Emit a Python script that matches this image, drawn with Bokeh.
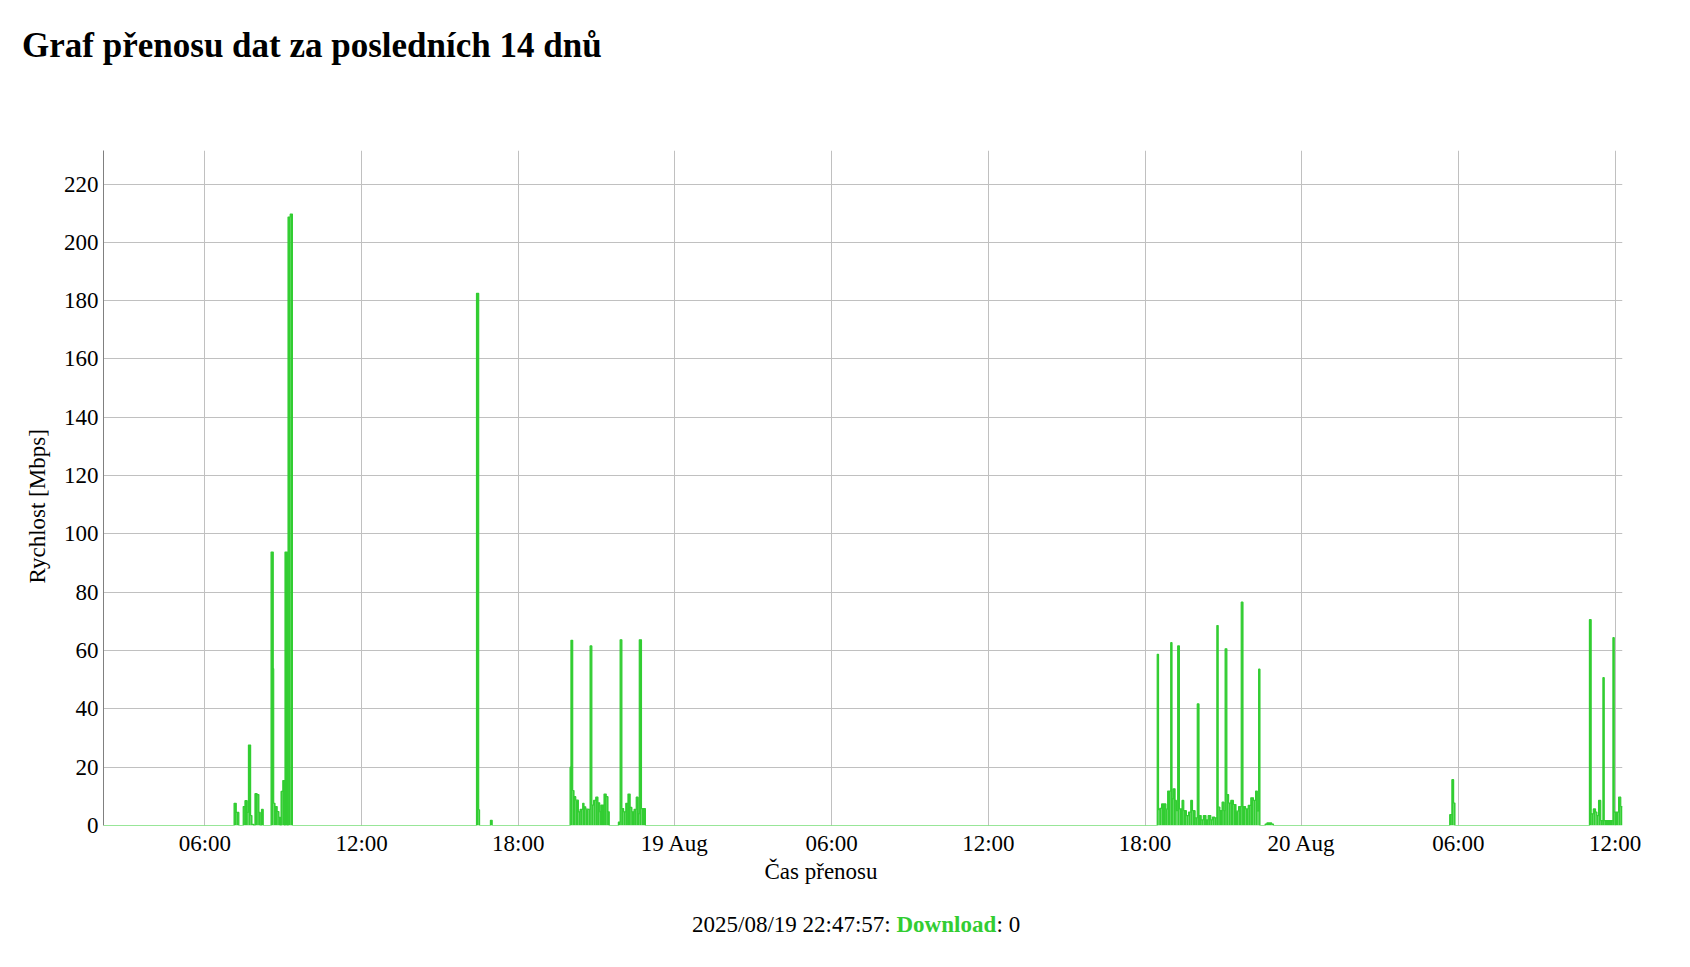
import pandas as pd
from bokeh.plotting import figure
from bokeh.models import Range1d, FixedTicker, ColumnDataSource, Title
from bokeh.core.properties import value
from bokeh.embed import file_html
from bokeh.resources import INLINE

# ---------------- data ----------------
title_text = "Graf přenosu dat za posledních 14 dnů"
y_label = "Rychlost [Mbps]"
x_label = "Čas přenosu"
footer_time = "2025/08/19 22:47:57: "
footer_series = "Download"
footer_value = ": 0"

x_start = "2025-08-18 02:07"
x_end = "2025-08-20 12:17"

tick_times = ["2025-08-18 06:00", "2025-08-18 12:00", "2025-08-18 18:00", "2025-08-19 00:00",
              "2025-08-19 06:00", "2025-08-19 12:00", "2025-08-19 18:00", "2025-08-20 00:00",
              "2025-08-20 06:00", "2025-08-20 12:00"]
tick_labels = ["06:00", "12:00", "18:00", "19 Aug", "06:00", "12:00", "18:00", "20 Aug",
               "06:00", "12:00"]
y_ticks = [0, 20, 40, 60, 80, 100, 120, 140, 160, 180, 200, 220]

# step series: value holds from step_time[i] until step_time[i+1]
step_time = [
    "2025-08-18 02:07", "2025-08-18 07:07", "2025-08-18 07:12", "2025-08-18 07:18",
    "2025-08-18 07:28", "2025-08-18 07:32", "2025-08-18 07:37", "2025-08-18 07:40",
    "2025-08-18 07:45", "2025-08-18 07:48", "2025-08-18 07:52", "2025-08-18 07:55",
    "2025-08-18 08:00", "2025-08-18 08:04", "2025-08-18 08:07", "2025-08-18 08:10",
    "2025-08-18 08:14", "2025-08-18 08:32", "2025-08-18 08:37", "2025-08-18 08:38",
    "2025-08-18 08:41", "2025-08-18 08:46", "2025-08-18 08:50", "2025-08-18 08:53",
    "2025-08-18 08:55", "2025-08-18 08:59", "2025-08-18 09:03", "2025-08-18 09:04",
    "2025-08-18 09:09", "2025-08-18 09:11", "2025-08-18 09:16", "2025-08-18 09:21",
    "2025-08-18 16:24", "2025-08-18 16:29", "2025-08-18 16:31", "2025-08-18 16:56",
    "2025-08-18 17:00",
    "2025-08-18 19:59", "2025-08-18 20:01", "2025-08-18 20:05", "2025-08-18 20:08",
    "2025-08-18 20:12", "2025-08-18 20:18", "2025-08-18 20:22", "2025-08-18 20:28",
    "2025-08-18 20:31", "2025-08-18 20:35", "2025-08-18 20:41", "2025-08-18 20:45",
    "2025-08-18 20:49", "2025-08-18 20:53", "2025-08-18 20:58", "2025-08-18 21:03",
    "2025-08-18 21:07", "2025-08-18 21:10", "2025-08-18 21:17", "2025-08-18 21:22",
    "2025-08-18 21:26", "2025-08-18 21:29", "2025-08-18 21:50", "2025-08-18 21:54",
    "2025-08-18 21:58", "2025-08-18 22:02", "2025-08-18 22:07", "2025-08-18 22:12",
    "2025-08-18 22:17", "2025-08-18 22:21", "2025-08-18 22:26", "2025-08-18 22:31",
    "2025-08-18 22:35", "2025-08-18 22:38", "2025-08-18 22:43", "2025-08-18 22:52",
    "2025-08-19 18:28", "2025-08-19 18:31", "2025-08-19 18:34", "2025-08-19 18:38",
    "2025-08-19 18:48", "2025-08-19 18:52", "2025-08-19 18:59", "2025-08-19 19:02",
    "2025-08-19 19:05", "2025-08-19 19:09", "2025-08-19 19:12", "2025-08-19 19:15",
    "2025-08-19 19:19", "2025-08-19 19:25", "2025-08-19 19:29", "2025-08-19 19:35",
    "2025-08-19 19:40", "2025-08-19 19:45", "2025-08-19 19:49", "2025-08-19 19:55",
    "2025-08-19 20:00", "2025-08-19 20:04", "2025-08-19 20:09", "2025-08-19 20:14",
    "2025-08-19 20:20", "2025-08-19 20:25", "2025-08-19 20:31", "2025-08-19 20:35",
    "2025-08-19 20:40", "2025-08-19 20:45", "2025-08-19 20:48", "2025-08-19 20:52",
    "2025-08-19 20:57", "2025-08-19 21:01", "2025-08-19 21:04", "2025-08-19 21:08",
    "2025-08-19 21:12", "2025-08-19 21:17", "2025-08-19 21:23", "2025-08-19 21:29",
    "2025-08-19 21:35", "2025-08-19 21:41", "2025-08-19 21:45", "2025-08-19 21:51",
    "2025-08-19 21:57", "2025-08-19 22:03", "2025-08-19 22:09", "2025-08-19 22:14",
    "2025-08-19 22:18", "2025-08-19 22:21", "2025-08-19 22:24", "2025-08-19 22:36",
    "2025-08-19 22:40", "2025-08-19 22:51", "2025-08-19 22:55",
    "2025-08-20 05:40", "2025-08-20 05:45", "2025-08-20 05:49", "2025-08-20 05:52",
    "2025-08-20 11:01", "2025-08-20 11:05", "2025-08-20 11:10", "2025-08-20 11:15",
    "2025-08-20 11:18", "2025-08-20 11:22", "2025-08-20 11:27", "2025-08-20 11:32",
    "2025-08-20 11:35", "2025-08-20 11:55", "2025-08-20 11:58", "2025-08-20 12:08",
    "2025-08-20 12:13", "2025-08-20 12:17",
]
step_mbps = [
    0, 7.6, 4.5, 0,
    6.5, 8.5, 4.5, 27.6,
    3.4, 0.4, 0, 10.9,
    10.6, 4.5, 0, 5.5,
    0, 93.8, 53.8, 7.6,
    6.5, 4.8, 2.8, 0,
    11.7, 15.4, 0, 93.8,
    0, 208.7, 209.7, 0,
    182.5, 5.4, 0, 1.8,
    0,
    20.0, 63.5, 12.0, 9.9,
    8.7, 4.7, 5.5, 7.6,
    6.4, 5.6, 5.5, 61.6,
    7.0, 8.6, 9.7, 7.8,
    4.7, 7.0, 10.8, 9.9,
    4.7, 0, 1.2, 63.7,
    5.8, 4.7, 7.6, 10.8,
    6.2, 4.7, 5.5, 9.7,
    4.0, 63.7, 5.8, 0,
    58.7, 5.4, 5.9, 7.4,
    5.6, 11.8, 62.7, 9.1,
    12.6, 8.6, 5.1, 61.6,
    5.7, 8.6, 5.1, 3.4,
    4.6, 8.6, 5.1, 2.6,
    41.7, 3.4, 1.9, 3.4,
    1.9, 3.4, 1.9, 2.9,
    2.6, 68.6, 6.3, 5.1,
    8.0, 5.1, 60.6, 10.6,
    7.7, 8.6, 7.2, 4.9,
    6.5, 76.6, 6.5, 5.7,
    6.9, 9.5, 8.6, 11.8,
    4.9, 53.6, 0, 0.5,
    0.9, 0.5, 0,
    3.7, 15.7, 7.7, 0,
    70.6, 4.0, 5.7, 4.6,
    3.4, 8.6, 1.7, 50.7,
    1.7, 64.4, 4.6, 9.7,
    6.5, 6.5,
]

# ---------------- styling ----------------
GREEN = "#32cd32"
FONT = "Liberation Serif"
W = 1674


def ms(s):
    return int(pd.Timestamp(s).value // 10**6)


def blank_fig(h):
    f = figure(width=W, height=h, x_range=Range1d(0, W), y_range=Range1d(h, 0),
               x_axis_type=None, y_axis_type=None, output_backend="svg",
               toolbar_location=None, min_border=0, outline_line_color=None,
               background_fill_color="white", border_fill_color="white")
    f.xgrid.visible = False
    f.ygrid.visible = False
    return f


# header with title
HH = 100
header = blank_fig(HH)
header.text(x=[21.6], y=[45], text=[title_text], text_font=value(FONT),
            text_font_size=value("35px"), text_font_style="bold",
            text_color="#000000", text_baseline="alphabetic", text_align="left")

# main chart
t_ms = [ms(s) for s in step_time]
quad_src = ColumnDataSource(dict(
    left=[t_ms[i] for i in range(len(t_ms) - 1) if step_mbps[i] > 0],
    right=[t_ms[i + 1] for i in range(len(t_ms) - 1) if step_mbps[i] > 0],
    top=[step_mbps[i] for i in range(len(t_ms) - 1) if step_mbps[i] > 0],
))
line_src = ColumnDataSource(dict(x=t_ms, y=step_mbps))

x0, x1 = ms(x_start), ms(x_end)
y_top = 231.5

p = figure(width=W, height=795, x_axis_type="datetime",
           x_range=Range1d(x0, x1), y_range=Range1d(0, y_top),
           output_backend="svg", toolbar_location=None,
           min_border_left=103, min_border_right=52, min_border_top=50, min_border_bottom=70,
           background_fill_color="white", border_fill_color="white", outline_line_color=None)

p.quad(left="left", right="right", bottom=0, top="top", source=quad_src,
       fill_color=GREEN, line_color=None)
p.step(x="x", y="y", source=line_src, mode="after", line_color=GREEN, line_width=1.2)

tick_ms = [ms(s) for s in tick_times]
p.xaxis.ticker = FixedTicker(ticks=tick_ms)
p.xgrid.ticker = FixedTicker(ticks=tick_ms)
p.xaxis.major_label_overrides = {k: v for k, v in zip(tick_ms, tick_labels)}
p.yaxis.ticker = FixedTicker(ticks=y_ticks)
p.ygrid.ticker = FixedTicker(ticks=y_ticks)

for ax in (p.xaxis[0], p.yaxis[0]):
    ax.major_tick_line_color = None
    ax.minor_tick_line_color = None
    ax.major_tick_out = 0
    ax.major_tick_in = 0
    ax.minor_tick_out = 0
    ax.major_label_text_font = FONT
    ax.major_label_text_font_size = "23px"
    ax.major_label_text_color = "#000000"
    ax.major_label_standoff = 5

p.xaxis.axis_line_color = None
p.yaxis.axis_line_color = "#808080"

# axis titles (placed as panel titles so they can sit off-centre like the original)
p.add_layout(Title(text=x_label, align="left", offset=661, standoff=-3, text_font=FONT,
                   text_font_size="23px", text_font_style="normal", text_color="#000000"),
             "below")
p.add_layout(Title(text=y_label, align="left", offset=242, standoff=22, text_font=FONT,
                   text_font_size="23px", text_font_style="normal", text_color="#000000"),
             "left")

p.xgrid.grid_line_color = "#c0c0c0"
p.ygrid.grid_line_color = "#c0c0c0"

# footer
FH = 50
footer = blank_fig(FH)
footer.text(x=[896], y=[29], text=[footer_time], text_font=value(FONT),
            text_font_size=value("23px"), text_color="#000000",
            text_baseline="alphabetic", text_align="right")
footer.text(x=[896], y=[29], text=[footer_series], text_font=value(FONT),
            text_font_size=value("23px"), text_font_style="bold", text_color=GREEN,
            text_baseline="alphabetic", text_align="left")
footer.text(x=[996], y=[29], text=[footer_value], text_font=value(FONT),
            text_font_size=value("23px"), text_color="#000000",
            text_baseline="alphabetic", text_align="left")

open("out.html", "w").write(file_html([header, p, footer], INLINE))
